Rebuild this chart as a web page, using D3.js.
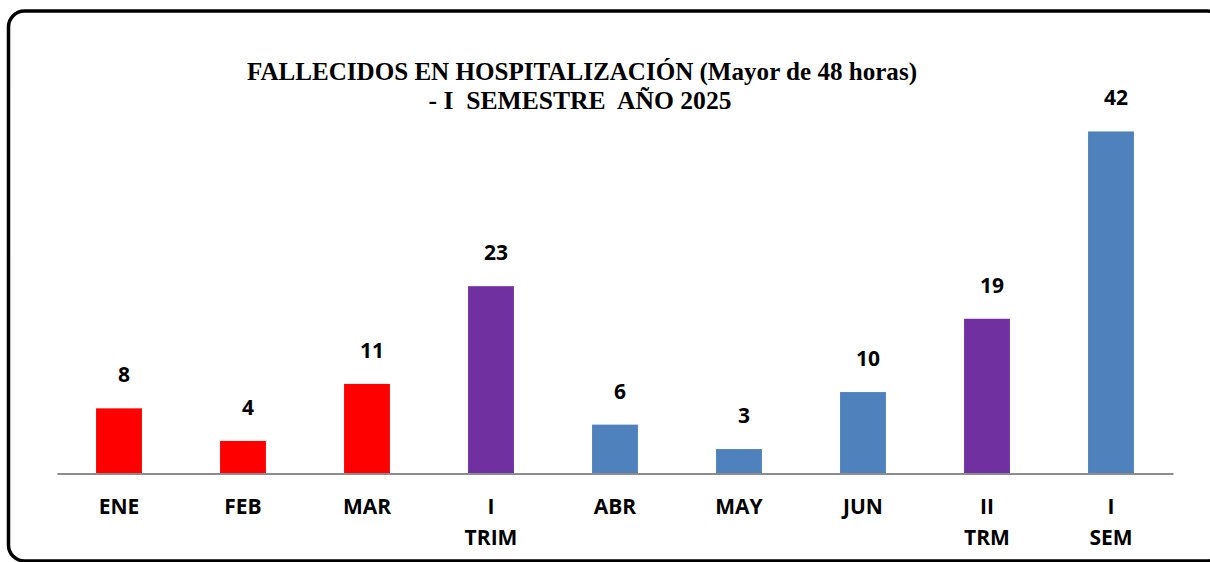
<!DOCTYPE html>
<html>
<head>
<meta charset="utf-8">
<script src="https://cdn.jsdelivr.net/npm/d3@7"></script>
<style>
  html, body { margin: 0; padding: 0; background: #ffffff; }
  svg { display: block; }
</style>
</head>
<body>
<script>
// ---- data ----
const categories = ["ENE", "FEB", "MAR", "I TRIM", "ABR", "MAY", "JUN", "II TRM", "I SEM"];
const categoryLines = [["ENE"], ["FEB"], ["MAR"], ["I", "TRIM"], ["ABR"], ["MAY"], ["JUN"], ["II", "TRM"], ["I", "SEM"]];
const values = [8, 4, 11, 23, 6, 3, 10, 19, 42];
const barColors = ["#FF0000", "#FF0000", "#FF0000", "#7030A0", "#4F81BD", "#4F81BD", "#4F81BD", "#7030A0", "#4F81BD"];
const titleLines = ["FALLECIDOS EN HOSPITALIZACIÓN (Mayor de 48 horas)", "- I  SEMESTRE  AÑO 2025"];
const yMax = 45;

const W = 1210, H = 562;
const svg = d3.select("body").append("svg").attr("width", W).attr("height", H);

// frame
svg.append("rect")
  .attr("x", 8.5).attr("y", 11)
  .attr("width", 1215).attr("height", 550)
  .attr("rx", 16).attr("ry", 16)
  .attr("fill", "none").attr("stroke", "#000").attr("stroke-width", 3.5);

// scales
const x = d3.scaleBand().domain(categories).range([57, 1173]).paddingInner(0.63).paddingOuter(0.315);
const y = d3.scaleLinear().domain([0, yMax]).range([473.5, 107]);

// title
const title = svg.append("g").attr("font-family", "'Liberation Serif', 'DejaVu Serif', serif")
  .attr("font-weight", "bold").attr("fill", "#000");
title.append("text").attr("x", 582).attr("y", 80).attr("text-anchor", "middle")
  .attr("font-size", 25.5).attr("textLength", 670).attr("lengthAdjust", "spacingAndGlyphs")
  .text(titleLines[0]);
title.append("text").attr("x", 580).attr("y", 109).attr("text-anchor", "middle")
  .attr("font-size", 25.5).attr("textLength", 303).attr("lengthAdjust", "spacingAndGlyphs")
  .style("white-space", "pre").attr("xml:space", "preserve")
  .text(titleLines[1]);

// bars
svg.append("g").selectAll("rect").data(values).join("rect")
  .attr("x", (d, i) => x(categories[i]))
  .attr("y", d => y(d))
  .attr("width", x.bandwidth())
  .attr("height", d => y(0) - y(d))
  .attr("fill", (d, i) => barColors[i]);

// value labels
svg.append("g").selectAll("text").data(values).join("text")
  .attr("x", (d, i) => x(categories[i]) + x.bandwidth() / 2 + 5)
  .attr("y", d => y(d) - 26)
  .attr("text-anchor", "middle")
  .attr("font-family", "'Open Sans', 'DejaVu Sans', sans-serif")
  .attr("font-weight", "bold").attr("font-size", 21).attr("fill", "#000")
  .text(d => d);

// x axis
const axis = svg.append("g").attr("transform", `translate(0,${y(0)})`)
  .call(d3.axisBottom(x).tickSize(0).tickSizeOuter(0).tickFormat(""));
axis.select(".domain").attr("stroke", "#8c8c8c").attr("stroke-width", 2);

axis.selectAll(".tick text").remove();
axis.selectAll(".tick").each(function(d, i) {
  const t = d3.select(this).append("text")
    .attr("fill", "#000")
    .attr("text-anchor", "middle")
    .attr("font-family", "'Open Sans', 'DejaVu Sans', sans-serif")
    .attr("font-weight", "bold").attr("font-size", 21);
  categoryLines[i].forEach((line, k) => {
    t.append("tspan").attr("x", 0).attr("y", 40 + k * 31).text(line);
  });
});
</script>
</body>
</html>
